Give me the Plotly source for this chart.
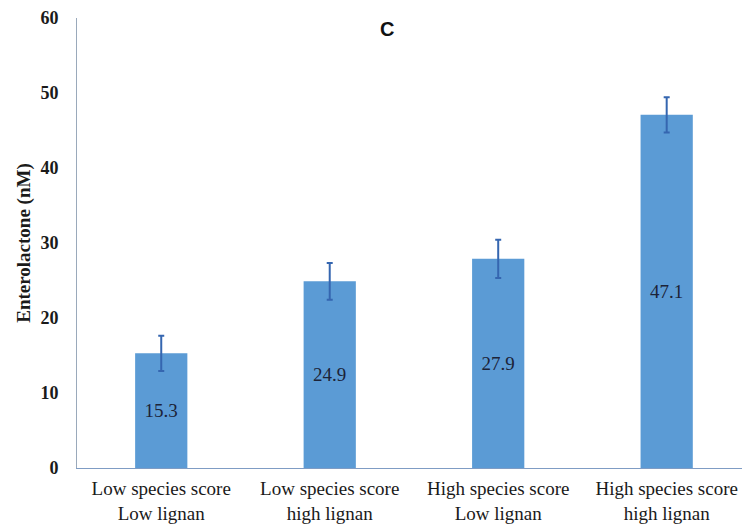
import plotly.graph_objects as go

categories = ["Low species score<br>Low lignan", "Low species score<br>high lignan",
              "High species score<br>Low lignan", "High species score<br>high lignan"]
values = [15.3, 24.9, 27.9, 47.1]
errors = [2.35, 2.45, 2.55, 2.35]
labels = ["15.3", "24.9", "27.9", "47.1"]
y_ticks = [0, 10, 20, 30, 40, 50, 60]

SERIF = "'Times New Roman', 'Liberation Serif', 'DejaVu Serif', serif"

fig = go.Figure()
fig.add_trace(go.Bar(
    x=list(range(len(categories))), y=values,
    marker=dict(color="#5b9bd5", line=dict(width=0)),
    error_y=dict(type="data", array=errors, visible=True, color="#3566b0", thickness=2, width=3),
    text=labels, textposition="inside", insidetextanchor="middle",
    textfont=dict(family=SERIF, size=19, color="#1c2338"),
    textangle=0,
))

fig.update_layout(
    width=742, height=526,
    margin=dict(l=77, r=0, t=18, b=58),
    plot_bgcolor="white", paper_bgcolor="white",
    bargap=0.69, showlegend=False,
    xaxis=dict(
        tickmode="array", tickvals=list(range(len(categories))), ticktext=categories,
        range=[-0.5, 3.447], showline=True, linecolor="#7f9cc4", linewidth=1,
        ticks="", showgrid=False, zeroline=False,
        tickfont=dict(family=SERIF, size=19, color="#1a1a1a"),
        ticklabelstandoff=3,
    ),
    yaxis=dict(
        range=[0, 60], tickvals=y_ticks, showline=True, linecolor="#9aa9bb", linewidth=1,
        ticks="", showgrid=False, zeroline=False,
        tickfont=dict(family=SERIF, size=18, color="#1a1a1a", weight="bold"),
        ticklabelstandoff=14,
        title=dict(text="<b>Enterolactone (nM)</b>", font=dict(family=SERIF, size=19, color="#1a1a1a"), standoff=4),
    ),
    annotations=[dict(text="<b>C</b>", xref="paper", yref="paper", x=0.466, y=0.975,
                      xanchor="center", yanchor="middle", showarrow=False,
                      font=dict(family="Arial, 'Liberation Sans', sans-serif", size=20, color="#111111"))],
)

fig.write_html("out.html")
